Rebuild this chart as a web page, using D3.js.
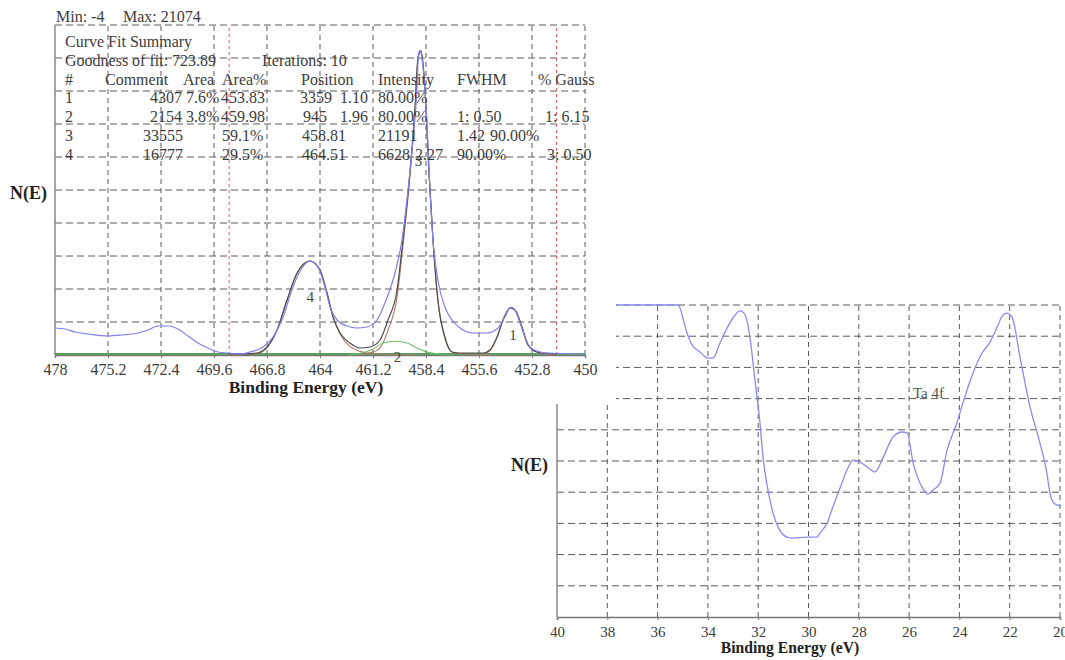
<!DOCTYPE html>
<html>
<head>
<meta charset="utf-8">
<script src="https://cdn.jsdelivr.net/npm/d3@7"></script>
<style>
  html, body { margin: 0; padding: 0; background: #fff; }
  svg { display: block; }
  text { font-family: "Liberation Serif", "DejaVu Serif", serif; }
</style>
</head>
<body>
<svg id="chart" width="1065" height="660"></svg>
<script>
// ================= DATA =================
// Left chart (Ti 2p curve fit) : [binding energy eV, counts]
const leftTicks = [478, 475.2, 472.4, 469.6, 466.8, 464, 461.2, 458.4, 455.6, 452.8, 450];
const leftDomainX = [478, 450];
const leftDomainY = [0, 22800];
const fitLimits = [468.8, 451.5];

const rawData = [
  [478.00,1865],[477.47,1796],[476.94,1589],[476.26,1451],[475.20,1313],[474.46,1382],
  [473.62,1520],[473.09,1727],[472.56,2004],[472.03,2004],[471.50,1796],[470.97,1313],
  [470.45,829],[469.92,484],[469.39,207],[468.86,138],[468.23,69],[467.70,207],
  [467.01,553],[466.48,1244],[465.95,2625],[465.43,4698],[464.95,6011],[464.53,6494],
  [464.11,6080],[463.74,4698],[463.47,3316],[463.10,2418],[462.57,2004],[462.05,1865],
  [461.52,1935],[460.99,2418],[460.57,3593],[460.04,5665],[459.67,7945],[459.35,11400],
  [459.09,14854],[458.88,18309],[458.80,20700],[458.72,21074],[458.56,19898],[458.35,16029],
  [458.19,11400],[458.03,7945],[457.77,5182],[457.40,3316],[457.03,2418],[456.60,1865],
  [455.92,1520],[455.18,1520],[454.65,1796],[454.23,2625],[453.91,3316],[453.70,3109],
  [453.43,2211],[453.17,1244],[452.91,553],[452.54,276],[452.01,138],[450.00,69]
];
const fitSum = [
  [468.86,69],[468.23,69],[467.33,138],[466.80,553],[466.27,1727],[465.74,3800],
  [465.21,5665],[464.53,6494],[464.00,5873],[463.63,4284],[463.31,2625],[462.94,1520],
  [462.42,829],[461.89,484],[461.36,553],[460.83,1036],[460.41,2418],[459.93,4491],
  [459.62,7945],[459.25,12574],[458.98,17134],[458.82,20589],[458.66,21000],[458.45,18309],
  [458.24,12574],[458.03,7945],[457.77,3800],[457.40,1244],[457.03,207],[456.60,138],
  [455.39,138],[455.02,345],[454.65,1244],[454.33,2418],[453.96,3247],[453.70,3109],
  [453.33,1935],[453.01,691],[452.54,207],[451.48,69]
];
const peak4 = [
  [468.86,0],[467.33,100],[466.80,500],[466.27,1700],[465.74,3800],[465.21,5665],
  [464.53,6494],[464.00,5873],[463.63,4284],[463.31,2625],[462.94,1450],[462.42,600],
  [461.89,250],[461.36,100],[460.50,30],[459.00,0]
];
const peak3 = [
  [462.00,50],[461.36,150],[460.83,500],[460.41,1700],[459.93,4000],[459.62,7500],
  [459.25,12300],[458.98,16900],[458.82,20500],[458.66,21000],[458.45,18309],[458.24,12574],
  [458.03,7945],[457.77,3700],[457.40,1150],[457.03,207],[456.60,100],[456.00,30],[455.00,0]
];
const peak2 = [
  [462.50,0],[461.89,120],[461.20,400],[460.67,830],[459.98,945],[459.40,830],
  [458.87,480],[458.35,200],[457.60,50],[457.00,0]
];
const peak1 = [
  [455.50,0],[455.02,300],[454.65,1200],[454.33,2400],[453.96,3247],[453.70,3109],
  [453.33,1935],[453.01,691],[452.54,207],[452.00,50],[451.48,0]
];
const peakLabels = [["4",464.51,4000],["3",458.8,13400],["2",459.9,-150],["1",453.8,1400]];

// Table texts
const minMaxText = ["Min: -4", "Max: 21074"];
const summaryTitle = "Curve Fit Summary";
const goodnessText = ["Goodness of fit: 723.89", "Iterations: 10"];
const tableHeader = ["#", "Comment", "Area", "Area%", "Position", "Intensity", "FWHM", "% Gauss"];
const tableRow1 = ["1", "4307", "7.6%", "453.83", "3359", "1.10", "80.00%"];
const tableRow2 = ["2", "2154", "3.8%", "459.98", "945", "1.96", "80.00%", "1: 0.50", "1: 6.15"];
const tableRow3 = ["3", "33555", "59.1%", "458.81", "21191", "1.42", "90.00%"];
const tableRow4 = ["4", "16777", "29.5%", "464.51", "6628", "2.27", "90.00%", "3: 0.50"];

// Right chart (Ta 4f) : [binding energy eV, N(E) arbitrary 0-100]
const rightTicks = [40, 38, 36, 34, 32, 30, 28, 26, 24, 22, 20];
const rightDomainX = [40, 20];
const rightDomainY = [0, 100];
const ta4f = [
  [40.00,100],[35.19,100],[34.83,91.0],[34.63,87.2],[34.31,84.9],[34.00,83.0],[33.80,83.0],
  [33.52,87.8],[33.24,92.6],[32.92,96.8],[32.72,98.1],[32.52,96.8],[32.33,89.7],[32.13,76.0],
  [31.93,62.2],[31.81,51.3],[31.61,40.7],[31.41,33.3],[31.21,28.8],[30.85,25.6],[30.62,25.3],
  [30.06,25.6],[29.66,25.6],[29.54,26.9],[29.26,30.1],[29.03,35.3],[28.75,41.3],[28.47,47.1],
  [28.23,50.3],[28.03,50.0],[27.67,48.1],[27.36,46.5],[27.04,51.0],[26.64,57.7],[26.28,59.3],
  [26.08,59.0],[25.84,49.4],[25.49,41.7],[25.25,39.4],[25.05,40.7],[24.77,42.9],[24.49,53.5],
  [24.10,62.2],[23.86,68.6],[23.46,78.2],[23.10,84.6],[22.78,88.1],[22.50,92.9],[22.27,96.8],
  [22.11,97.4],[21.91,96.2],[21.59,83.3],[21.19,67.3],[20.80,55.8],[20.52,46.0],[20.40,39.7],
  [20.20,36.2],[20.00,35.6]
];
const taLabel = "Ta 4f";
const yLabel = "N(E)";
const xLabel = "Binding Energy (eV)";

// ================= LAYOUT =================
const svg = d3.select("#chart");
svg.append("rect").attr("width", 1065).attr("height", 660).attr("fill", "#fff");
const GRID = "#5a5a5a";
const TXT = "#3c3c3c";

function drawGrid(g, x, y, xTicks, yGrid, x0, x1, y0, y1) {
  g.selectAll(null).data(yGrid).enter().append("line")
    .attr("x1", x0).attr("x2", x1).attr("y1", d => y(d)).attr("y2", d => y(d))
    .attr("stroke", GRID).attr("stroke-width", 1).attr("stroke-dasharray", "7,4");
  g.selectAll(null).data(xTicks.slice(1)).enter().append("line")
    .attr("x1", d => x(d)).attr("x2", d => x(d)).attr("y1", y0).attr("y2", y1)
    .attr("stroke", GRID).attr("stroke-width", 1).attr("stroke-dasharray", "5,4");
  g.append("line").attr("x1", x0).attr("x2", x0).attr("y1", y0).attr("y2", y1)
    .attr("stroke", "#888").attr("stroke-width", 1.5);
}

// ---------- Right chart ----------
{
  const x0 = 557, x1 = 1060, y0 = 617, y1 = 305;
  const x = d3.scaleLinear().domain(rightDomainX).range([x0, x1]);
  const y = d3.scaleLinear().domain(rightDomainY).range([y0, y1]);
  const g = svg.append("g");
  drawGrid(g, x, y, rightTicks, d3.range(10, 101, 10), x0, x1, y0, y1);
  const ax = g.append("g").attr("transform", `translate(0,${y0})`)
    .call(d3.axisBottom(x).tickValues(rightTicks).tickSize(3).tickFormat(d3.format("d")));
  ax.select(".domain").attr("stroke", "#777").attr("stroke-width", 1.5);
  ax.selectAll(".tick line").attr("stroke", "#777");
  ax.selectAll(".tick text").attr("font-size", 15).attr("fill", TXT).attr("dy", "0.95em")
    .style("font-family", '"Liberation Serif", serif');
  g.append("path").datum(ta4f)
    .attr("d", d3.line().x(d => x(d[0])).y(d => y(d[1])).curve(d3.curveMonotoneX))
    .attr("fill", "none").attr("stroke", "#8a8af0").attr("stroke-width", 1.3);
  g.append("text").attr("x", 913).attr("y", 398).attr("font-size", 15).attr("fill", "#555").text(taLabel);
  g.append("text").attr("x", 511).attr("y", 471).attr("font-size", 18).attr("font-weight", "bold")
    .attr("fill", "#222").text(yLabel);
  g.append("text").attr("x", 790).attr("y", 653).attr("text-anchor", "middle").attr("font-size", 15.7)
    .attr("font-weight", "bold").attr("fill", "#222").text(xLabel);
}

// white area of the overlapping left picture
svg.append("rect").attr("x", 0).attr("y", 0).attr("width", 616).attr("height", 404).attr("fill", "#fff");

// ---------- Left chart ----------
{
  const x0 = 55, x1 = 585, y0 = 355, y1 = 25;
  const x = d3.scaleLinear().domain(leftDomainX).range([x0, x1]);
  const y = d3.scaleLinear().domain(leftDomainY).range([y0, y1]);
  const g = svg.append("g");
  drawGrid(g, x, y, leftTicks, d3.range(1, 11).map(k => k * leftDomainY[1] / 10), x0, x1, y0, y1);
  g.selectAll(null).data(fitLimits).enter().append("line")
    .attr("x1", d => x(d)).attr("x2", d => x(d)).attr("y1", y0).attr("y2", y1)
    .attr("stroke", "#e05555").attr("stroke-width", 1).attr("stroke-dasharray", "3,3");
  const ax = g.append("g").attr("transform", `translate(0,${y0})`)
    .call(d3.axisBottom(x).tickValues(leftTicks).tickSize(3).tickFormat(d => String(d)));
  ax.select(".domain").attr("stroke", "#777").attr("stroke-width", 1.5);
  ax.selectAll(".tick line").attr("stroke", "#777");
  ax.selectAll(".tick text").attr("font-size", 16).attr("fill", TXT).attr("dy", "0.85em")
    .style("font-family", '"Liberation Serif", serif');

  const line = d3.line().x(d => x(d[0])).y(d => y(d[1])).curve(d3.curveMonotoneX);
  g.append("line").attr("x1", x0).attr("x2", x1).attr("y1", y0 - 1).attr("y2", y0 - 1)
    .attr("stroke", "#5aa05a").attr("stroke-width", 1.8);
  [peak4, peak3, peak1].forEach(p => {
    g.append("path").datum(p).attr("d", line).attr("fill", "none")
      .attr("stroke", "#b0786a").attr("stroke-width", 1.1);
  });
  g.append("path").datum(peak2).attr("d", line).attr("fill", "none")
    .attr("stroke", "#6cbf6c").attr("stroke-width", 1.1);
  g.append("path").datum(fitSum).attr("d", line).attr("fill", "none")
    .attr("stroke", "#4d4d4d").attr("stroke-width", 1.2);
  g.append("path").datum(rawData).attr("d", line).attr("fill", "none")
    .attr("stroke", "#8080f0").attr("stroke-width", 1.2);

  g.selectAll(null).data(peakLabels).enter().append("text")
    .attr("x", d => x(d[1])).attr("y", d => y(d[2]) + 5).attr("text-anchor", "middle")
    .attr("font-size", 15).attr("fill", "#444").text(d => d[0]);

  const t = (s, xx, yy, anchor) => g.append("text").attr("x", xx).attr("y", yy)
    .attr("text-anchor", anchor || "start").attr("font-size", 16).attr("fill", TXT).text(s);
  t(minMaxText[0], 56, 22);
  t(minMaxText[1], 123, 22);
  t(summaryTitle, 65, 47);
  t(goodnessText[0], 65, 66);
  t(goodnessText[1], 262, 66);
  const headerX = [65, 105, 183, 222, 301, 378, 457, 538];
  tableHeader.forEach((s, i) => t(s, headerX[i], 85));
  const rowsLayout = [
    [tableRow1, 103, [[65,"start"],[182,"end"],[186,"start"],[221,"start"],[300,"start"],[340,"start"],[378,"start"]]],
    [tableRow2, 122, [[65,"start"],[182,"end"],[186,"start"],[221,"start"],[303,"start"],[340,"start"],[378,"start"],[457,"start"],[545,"start"]]],
    [tableRow3, 141, [[65,"start"],[183,"end"],[222,"start"],[302,"start"],[378,"start"],[457,"start"],[490,"start"]]],
    [tableRow4, 160, [[65,"start"],[183,"end"],[222,"start"],[302,"start"],[378,"start"],[415,"start"],[457,"start"],[547,"start"]]]
  ];
  rowsLayout.forEach(([row, yy, pos]) => row.forEach((s, i) => t(s, pos[i][0], yy, pos[i][1])));

  g.append("text").attr("x", 10).attr("y", 199).attr("font-size", 18).attr("font-weight", "bold")
    .attr("fill", "#222").text(yLabel);
  g.append("text").attr("x", 306).attr("y", 393).attr("text-anchor", "middle").attr("font-size", 17.5)
    .attr("font-weight", "bold").attr("fill", "#222").text(xLabel);
}
</script>
</body>
</html>
